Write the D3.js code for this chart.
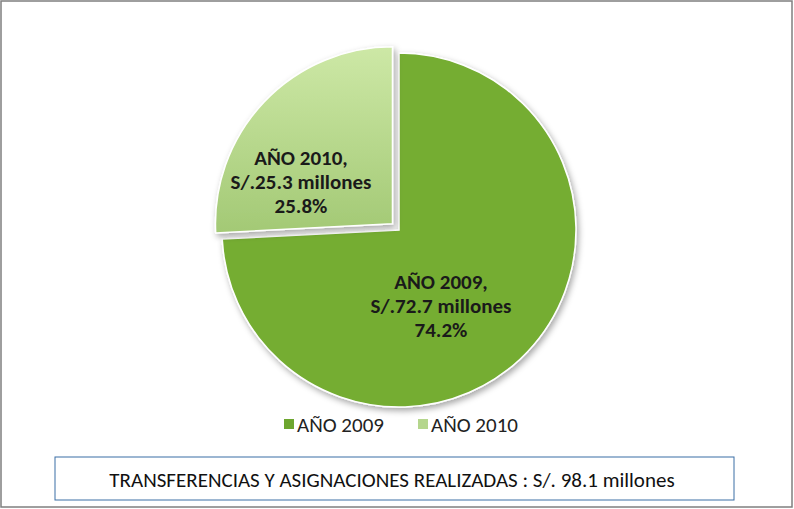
<!DOCTYPE html>
<html><head><meta charset="utf-8">
<script src="https://cdn.jsdelivr.net/npm/d3@7"></script>
<style>body{margin:0;background:#fff}</style></head>
<body><svg id="c" width="794" height="509"></svg>
<script>
const categories = ["AÑO 2009", "AÑO 2010"];
const values = [72.7, 25.3];
const percents = ["74.2%", "25.8%"];
const title = "TRANSFERENCIAS Y ASIGNACIONES REALIZADAS : S/. 98.1 millones";

const svg = d3.select("#c");
const font = "Calibri, Carlito, 'Open Sans', sans-serif";
svg.append("rect").attr("x",1).attr("y",1).attr("width",791).attr("height",506)
  .attr("fill","#fff").attr("stroke","#7f7f7f").attr("stroke-width",1.5);

const defs = svg.append("defs");
const g1 = defs.append("radialGradient").attr("id","g1").attr("gradientUnits","userSpaceOnUse")
  .attr("cx",399).attr("cy",230).attr("r",177);
g1.append("stop").attr("offset","0%").attr("stop-color","#82bb3c");
g1.append("stop").attr("offset","85%").attr("stop-color","#8cc640");
g1.append("stop").attr("offset","100%").attr("stop-color","#74ad32");
const g2 = defs.append("linearGradient").attr("id","g2").attr("x1",0).attr("y1",0).attr("x2",0).attr("y2",1);
g2.append("stop").attr("offset","0%").attr("stop-color","#cde8a6");
g2.append("stop").attr("offset","100%").attr("stop-color","#a3c975");
const fills = ["url(#g1)","url(#g2)"];
const f = defs.append("filter").attr("id","sh").attr("x","-20%").attr("y","-20%").attr("width","140%").attr("height","140%");
f.append("feDropShadow").attr("dx",2).attr("dy",3).attr("stdDeviation",3).attr("flood-opacity",0.35);

const cx=399, cy=230, r=177;
const pie = d3.pie().sort(null)(values);
const arc = d3.arc().innerRadius(0).outerRadius(r);
const explode = [0, 9];
const gp = svg.append("g").attr("transform",`translate(${cx},${cy})`);
pie.forEach((d,i)=>{
  const m=(d.startAngle+d.endAngle)/2;
  const dx=Math.sin(m)*explode[i], dy=-Math.cos(m)*explode[i];
  const g=gp.append("g").attr("transform",`translate(${dx},${dy})`);
  g.append("path").attr("d",arc(d)).attr("fill",fills[i]).attr("stroke","#fff").attr("stroke-width",1.5).attr("filter","url(#sh)");
});
const labelPos=[[42,59],[-98,-65]];
const lines = (i)=>[categories[i]+",", "S/."+values[i]+" millones", percents[i]];
labelPos.forEach((p,i)=>{
  const t=gp.append("text").attr("text-anchor","middle").attr("font-family",font)
    .attr("font-weight","bold").attr("font-size",21).attr("fill","#1a1a1a");
  lines(i).forEach((s,k)=>t.append("tspan").attr("x",p[0]).attr("y",p[1]+k*24).text(s));
});

const lx=[284,418];
categories.forEach((c,i)=>{
  svg.append("rect").attr("x",lx[i]).attr("y",419).attr("width",10).attr("height",10).attr("fill",i?"#b5d68d":"#6da62f");
  svg.append("text").attr("x",lx[i]+13).attr("y",432).attr("font-family",font).attr("font-size",21).attr("fill","#222").text(c);
});

svg.append("rect").attr("x",55).attr("y",457).attr("width",679).attr("height",43)
  .attr("fill","#fff").attr("stroke","#3a6ea5").attr("stroke-width",1);
svg.append("text").attr("x",392).attr("y",487).attr("text-anchor","middle").attr("font-family",font)
  .attr("font-size",21).attr("fill","#111").text(title);
</script></body></html>
